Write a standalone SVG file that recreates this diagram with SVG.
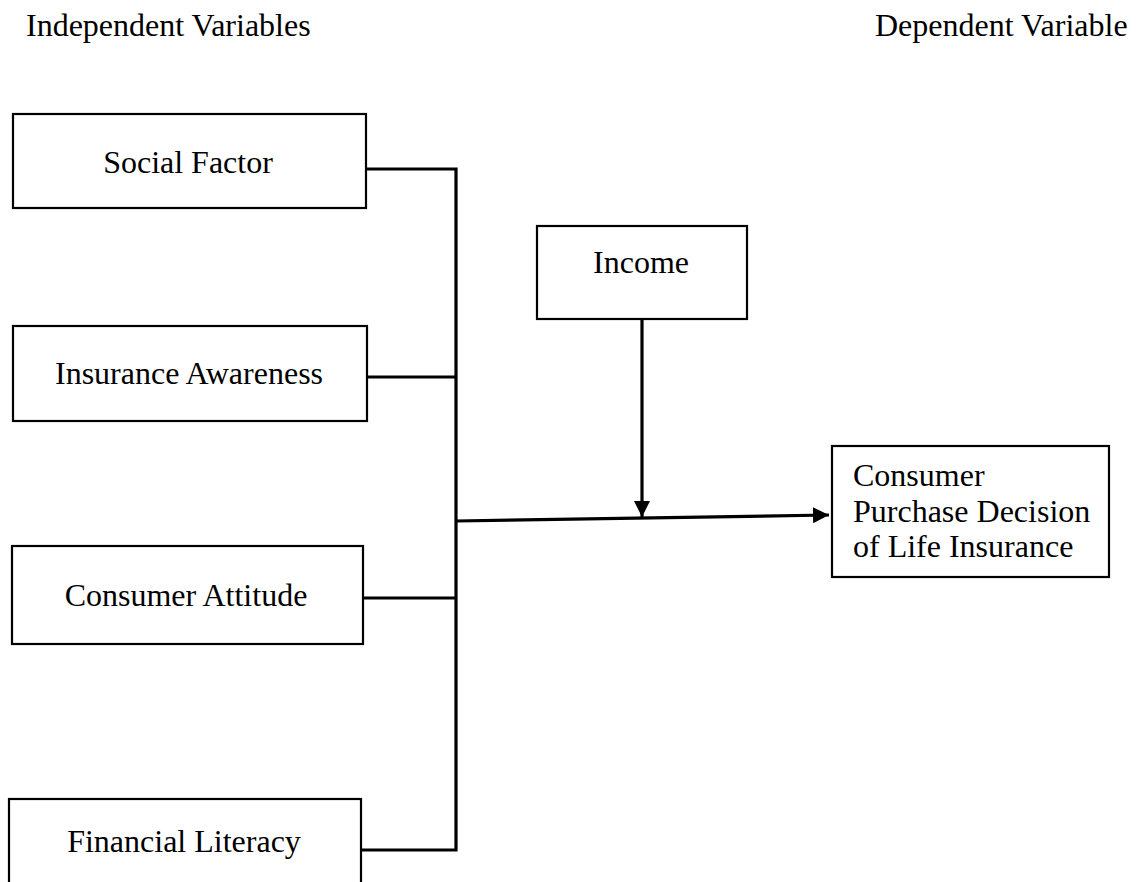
<svg xmlns="http://www.w3.org/2000/svg" width="1140" height="882" viewBox="0 0 1140 882">
  <style>
    .box { fill: #ffffff; stroke: #000000; stroke-width: 2.2; }
    .lbl { font-family: "Liberation Serif", "Times New Roman", serif; font-size: 32px; fill: #000000; }
    .mid { text-anchor: middle; }
    .wire { fill: none; stroke: #000000; stroke-width: 3.2; }
  </style>
  <defs>
    <marker id="head" viewBox="0 0 16 16" refX="16" refY="8" markerWidth="16" markerHeight="16" markerUnits="userSpaceOnUse" orient="auto">
      <path d="M0,0 L16,8 L0,16 Z" fill="#000000"/>
    </marker>
  </defs>

  <rect width="1140" height="882" fill="#ffffff"/>

  <!-- column headings -->
  <text class="lbl" x="26" y="36">Independent Variables</text>
  <text class="lbl" x="875" y="36">Dependent Variable</text>

  <!-- connectors -->
  <g id="connectors">
    <path class="wire" d="M366,169 H456 V850 H361"/>
    <path class="wire" d="M367,377 H456"/>
    <path class="wire" d="M363,598 H456"/>
    <path class="wire" d="M456,521 L829,515" marker-end="url(#head)"/>
    <path class="wire" d="M642,319 V517" marker-end="url(#head)"/>
  </g>

  <!-- independent variables -->
  <g id="social-factor">
    <rect class="box" x="13" y="114" width="353" height="94"/>
    <text class="lbl mid" x="188" y="173">Social Factor</text>
  </g>
  <g id="insurance-awareness">
    <rect class="box" x="13" y="326" width="354" height="95"/>
    <text class="lbl mid" x="189" y="384">Insurance Awareness</text>
  </g>
  <g id="consumer-attitude">
    <rect class="box" x="12" y="546" width="351" height="98"/>
    <text class="lbl mid" x="186" y="606">Consumer Attitude</text>
  </g>
  <g id="financial-literacy">
    <rect class="box" x="9" y="799" width="352" height="110"/>
    <text class="lbl mid" x="184" y="852">Financial Literacy</text>
  </g>

  <!-- moderator -->
  <g id="income">
    <rect class="box" x="537" y="226" width="210" height="93"/>
    <text class="lbl mid" x="641" y="273">Income</text>
  </g>

  <!-- dependent variable -->
  <g id="purchase-decision">
    <rect class="box" x="832" y="446" width="277" height="131"/>
    <text class="lbl" x="853" y="486">Consumer</text>
    <text class="lbl" x="853" y="522">Purchase Decision</text>
    <text class="lbl" x="853" y="557">of Life Insurance</text>
  </g>
</svg>
